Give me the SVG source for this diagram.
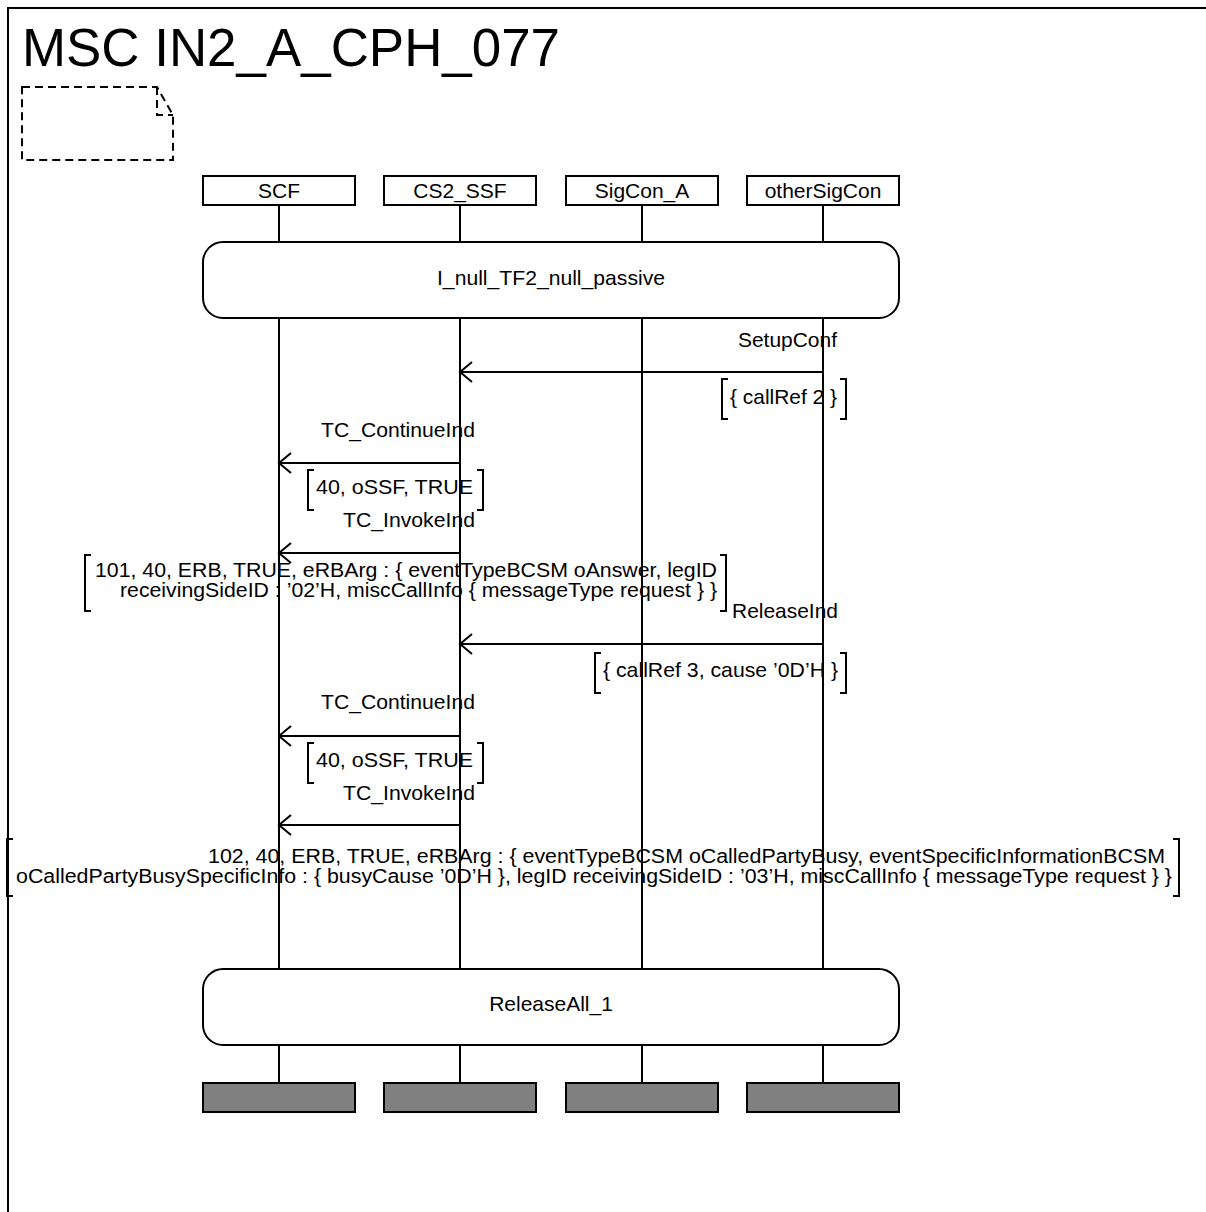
<svg xmlns="http://www.w3.org/2000/svg" width="1206" height="1212" viewBox="0 0 1206 1212">
<defs>
<style>
text{font-family:"Liberation Sans",Arial,Helvetica,sans-serif;font-size:21px;fill:#000}
.title{font-size:54px}
.c{text-anchor:middle}
.p2{font-size:19.5px}
.ln{stroke:#000;stroke-width:2;fill:none}
.box{fill:#fff;stroke:#000;stroke-width:2}
.end{fill:#808080;stroke:#000;stroke-width:2}
.dash{stroke:#000;stroke-width:2;fill:none;stroke-dasharray:8,5}
.msg{stroke:#000;stroke-width:2;fill:none;marker-end:url(#arr)}
</style>
<marker id="arr" markerUnits="userSpaceOnUse" viewBox="-14 -12 16 24" refX="0" refY="0" markerWidth="16" markerHeight="24" orient="auto" overflow="visible">
<path d="M-12,-10 L0,0 L-12,10" fill="none" stroke="#000" stroke-width="2"/>
</marker>
</defs>
<rect width="1206" height="1212" fill="#fff"/>
<g id="frame">
<path class="ln" d="M8,1212 V8 H1206"/>
<text class="title" x="22" y="66" textLength="538" lengthAdjust="spacingAndGlyphs">MSC IN2_A_CPH_077</text>
<path class="dash" d="M22,87 H157 L173,115 V160 H22 Z"/>
<path class="dash" d="M157,87 V115 H173"/>
</g>
<g id="lifelines">
<line class="ln" x1="279" y1="205" x2="279" y2="1083"/>
<line class="ln" x1="460" y1="205" x2="460" y2="1083"/>
<line class="ln" x1="642" y1="205" x2="642" y2="1083"/>
<line class="ln" x1="823" y1="205" x2="823" y2="1083"/>
</g>
<g id="SCF">
<rect class="box" x="203" y="176" width="152" height="29"/>
<text class="c" x="279" y="198">SCF</text>
<rect class="end" x="203" y="1083" width="152" height="29"/>
</g>
<g id="CS2_SSF">
<rect class="box" x="384" y="176" width="152" height="29"/>
<text class="c" x="460" y="198">CS2_SSF</text>
<rect class="end" x="384" y="1083" width="152" height="29"/>
</g>
<g id="SigCon_A">
<rect class="box" x="566" y="176" width="152" height="29"/>
<text class="c" x="642" y="198">SigCon_A</text>
<rect class="end" x="566" y="1083" width="152" height="29"/>
</g>
<g id="otherSigCon">
<rect class="box" x="747" y="176" width="152" height="29"/>
<text class="c" x="823" y="198">otherSigCon</text>
<rect class="end" x="747" y="1083" width="152" height="29"/>
</g>
<g id="cond1">
<rect class="box" x="203" y="242" width="696" height="76" rx="20" ry="20"/>
<text class="c" x="551" y="285" textLength="228" lengthAdjust="spacingAndGlyphs">I_null_TF2_null_passive</text>
</g>
<g id="cond2">
<rect class="box" x="203" y="969" width="696" height="76" rx="20" ry="20"/>
<text class="c" x="551" y="1011">ReleaseAll_1</text>
</g>
<g id="connectors">
<line class="msg" x1="823" y1="372" x2="460" y2="372"/>
<line class="msg" x1="460" y1="463" x2="279" y2="463"/>
<line class="msg" x1="460" y1="553" x2="279" y2="553"/>
<line class="msg" x1="823" y1="644" x2="460" y2="644"/>
<line class="msg" x1="460" y1="736" x2="279" y2="736"/>
<line class="msg" x1="460" y1="825" x2="279" y2="825"/>
</g>
<g id="labels">
<text x="738" y="347" textLength="99" lengthAdjust="spacingAndGlyphs">SetupConf</text>
<path class="ln" d="M728,379 H722 V419 H728 M840,379 H846 V419 H840"/>
<text x="730" y="404" textLength="107" lengthAdjust="spacingAndGlyphs">{ callRef 2 }</text>

<text x="321" y="437" textLength="154" lengthAdjust="spacingAndGlyphs">TC_ContinueInd</text>
<path class="ln" d="M314,470 H308 V510 H314 M477,470 H483 V510 H477"/>
<text x="316" y="494" textLength="157" lengthAdjust="spacingAndGlyphs">40, oSSF, TRUE</text>

<text x="343" y="527" textLength="132" lengthAdjust="spacingAndGlyphs">TC_InvokeInd</text>
<path class="ln" d="M91,555 H85 V611 H91 M720,555 H726 V611 H720"/>
<text class="p2" x="95" y="577" textLength="622" lengthAdjust="spacingAndGlyphs">101, 40, ERB, TRUE, eRBArg : { eventTypeBCSM oAnswer, legID</text>
<text class="p2" x="120" y="597" textLength="597" lengthAdjust="spacingAndGlyphs">receivingSideID : ’02’H, miscCallInfo { messageType request } }</text>

<text x="732" y="618" textLength="106" lengthAdjust="spacingAndGlyphs">ReleaseInd</text>
<path class="ln" d="M601,653 H595 V693 H601 M840,653 H846 V693 H840"/>
<text x="603" y="677" textLength="235" lengthAdjust="spacingAndGlyphs">{ callRef 3, cause ’0D’H }</text>

<text x="321" y="709" textLength="154" lengthAdjust="spacingAndGlyphs">TC_ContinueInd</text>
<path class="ln" d="M314,743 H308 V783 H314 M477,743 H483 V783 H477"/>
<text x="316" y="767" textLength="157" lengthAdjust="spacingAndGlyphs">40, oSSF, TRUE</text>

<text x="343" y="800" textLength="132" lengthAdjust="spacingAndGlyphs">TC_InvokeInd</text>
<path class="ln" d="M13,839 H7 V896 H13 M1173,839 H1179 V896 H1173"/>
<text class="p2" x="208" y="863" textLength="957" lengthAdjust="spacingAndGlyphs">102, 40, ERB, TRUE, eRBArg : { eventTypeBCSM oCalledPartyBusy, eventSpecificInformationBCSM</text>
<text class="p2" x="16" y="883" textLength="1156" lengthAdjust="spacingAndGlyphs">oCalledPartyBusySpecificInfo : { busyCause ’0D’H }, legID receivingSideID : ’03’H, miscCallInfo { messageType request } }</text>
</g>
</svg>
